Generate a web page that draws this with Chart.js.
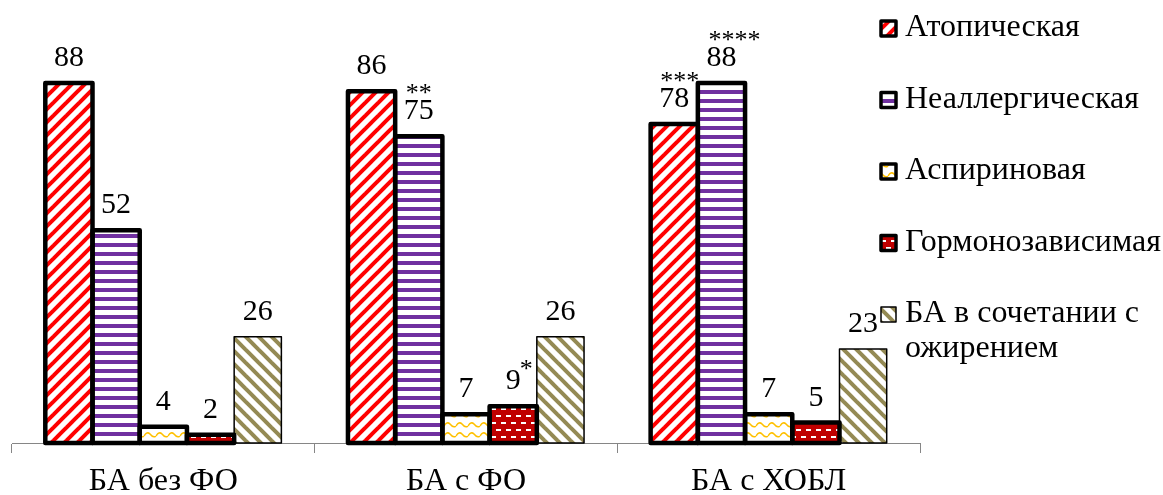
<!DOCTYPE html>
<html>
<head>
<meta charset="utf-8">
<script src="https://cdn.jsdelivr.net/npm/chart.js@4.4.1/dist/chart.umd.min.js"></script>
<style>
  body { margin: 0; background: #fff; }
</style>
</head>
<body>
<canvas id="chart" width="1163" height="495"></canvas>
<script>
const categories = ['БА без ФО', 'БА с ФО', 'БА с ХОБЛ'];
const seriesNames = ['Атопическая', 'Неаллергическая', 'Аспириновая', 'Гормонозависимая', 'БА в сочетании с ожирением'];

const atopic = [88, 86, 78];
const nonAllergic = [52, 75, 88];
const aspirin = [4, 7, 7];
const hormone = [2, 9, 5];
const obesity = [26, 26, 23];

// significance marks shown next to the values
const atopicStars = ['', '', '***'];
const nonAllergicStars = ['', '**', '****'];
const hormoneStars = ['', '*', ''];

const FONT = '"Liberation Serif", "Times New Roman", serif';

const makePattern = (w, h, draw) => {
    const c = document.createElement('canvas');
    c.width = w;
    c.height = h;
    const g = c.getContext('2d');
    g.fillStyle = '#fff';
    g.fillRect(0, 0, w, h);
    draw(g);
    return g.createPattern(c, 'repeat');
}

const diagonal = (color, up) => makePattern(13, 13, (g) => {
    g.strokeStyle = color;
    g.lineWidth = 4;
    for (let k = -1; k <= 1; k++) {
        g.beginPath();
        if (up) {
            g.moveTo(k * 13 - 2, 15);
            g.lineTo(k * 13 + 15, -2);
        } else {
            g.moveTo(k * 13 - 2, -2);
            g.lineTo(k * 13 + 15, 15);
        }
        g.stroke();
    }
});

const redStripes = diagonal('#ff0000', true);
const oliveStripes = diagonal('#948a54', false);

const purpleLines = makePattern(4, 9, (g) => {
    g.fillStyle = '#7030a0';
    g.fillRect(0, 0, 4, 4);
});

const yellowWaves = makePattern(12, 10, (g) => {
    g.strokeStyle = '#ffc000';
    g.lineWidth = 1.5;
    g.beginPath();
    g.moveTo(0, 6);
    g.quadraticCurveTo(3, 1, 6, 4);
    g.quadraticCurveTo(9, 8, 12, 6);
    g.stroke();
});

const redBricks = makePattern(10, 14, (g) => {
    g.fillStyle = '#c00000';
    g.fillRect(0, 0, 10, 14);
    g.fillStyle = '#fff';
    g.fillRect(1, 2, 5, 2);
    g.fillRect(6, 9, 5, 2);
    g.fillRect(0, 9, 1, 2);
});

const patterns = [redStripes, purpleLines, yellowWaves, redBricks, oliveStripes];
const outlineWidths = [4.5, 4.5, 4.5, 4.5, 1.5];
const seriesData = [atopic, nonAllergic, aspirin, hormone, obesity];

const barDecor = {
    id: 'barDecor',
    afterDatasetsDraw(chart) {
        const ctx = chart.ctx;
        ctx.save();
        ctx.strokeStyle = '#000';
        ctx.lineJoin = 'round';
        chart.data.datasets.forEach((ds, i) => {
            ctx.lineWidth = outlineWidths[i];
            chart.getDatasetMeta(i).data.forEach((bar) => {
                ctx.strokeRect(bar.x - bar.width / 2, bar.y, bar.width, bar.base - bar.y);
            });
        });

        ctx.fillStyle = '#000';
        ctx.textBaseline = 'alphabetic';
        chart.data.datasets.forEach((ds, i) => {
            chart.getDatasetMeta(i).data.forEach((bar, j) => {
                const text = String(ds.data[j]);
                const base = bar.y - 17;
                ctx.font = '30px ' + FONT;
                ctx.textAlign = 'center';
                ctx.fillText(text, bar.x, base);
                const w = ctx.measureText(text).width;
                ctx.font = '26px ' + FONT;
                ctx.textAlign = 'left';
                if (i === 0 && atopicStars[j]) ctx.fillText(atopicStars[j], bar.x - w / 2 + 1, base - 18);
                if (i === 1 && nonAllergicStars[j]) ctx.fillText(nonAllergicStars[j], bar.x - w / 2 + 2, base - 18);
                if (i === 3 && hormoneStars[j]) ctx.fillText(hormoneStars[j], bar.x + w / 2 - 1, base - 12);
            });
        });
        ctx.restore();
    },
    afterDraw(chart) {
        const ctx = chart.ctx;
        ctx.save();
        ctx.font = '32px ' + FONT;
        ctx.textBaseline = 'middle';
        ctx.textAlign = 'left';
        seriesNames.forEach((name, i) => {
            const y = 28 + i * 71.5;
            ctx.fillStyle = patterns[i];
            ctx.fillRect(881, y - 7, 15, 15);
            ctx.strokeStyle = '#000';
            ctx.lineWidth = i < 4 ? 3.5 : 1.5;
            ctx.lineJoin = 'round';
            ctx.strokeRect(881, y - 7, 15, 15);
            ctx.fillStyle = '#000';
            if (i === 4) {
                ctx.fillText('БА в сочетании с', 905, y);
                ctx.fillText('ожирением', 905, y + 35);
            } else {
                ctx.fillText(name, 905, y);
            }
        });
        ctx.restore();
    }
};

new Chart(document.getElementById('chart'), {
    type: 'bar',
    data: {
        labels: categories,
        datasets: seriesNames.map((name, i) => ({
            label: name,
            data: seriesData[i],
            backgroundColor: patterns[i],
            borderWidth: 0,
            categoryPercentage: 0.78,
            barPercentage: 1,
        })),
    },
    options: {
        responsive: false,
        animation: false,
        layout: {
            padding: { left: 12, right: 243, top: 34, bottom: -16 }
        },
        plugins: {
            legend: { display: false },
            tooltip: { enabled: false },
        },
        scales: {
            x: {
                grid: {
                    offset: true,
                    drawOnChartArea: false,
                    drawTicks: true,
                    tickLength: 10,
                    color: '#868686',
                },
                border: { color: '#868686', width: 1 },
                ticks: {
                    color: '#000',
                    font: { family: FONT, size: 32, lineHeight: 1 },
                    padding: 13,
                },
            },
            y: {
                display: false,
                min: 0,
                max: 100,
            }
        }
    },
    plugins: [barDecor],
});
</script>
</body>
</html>
